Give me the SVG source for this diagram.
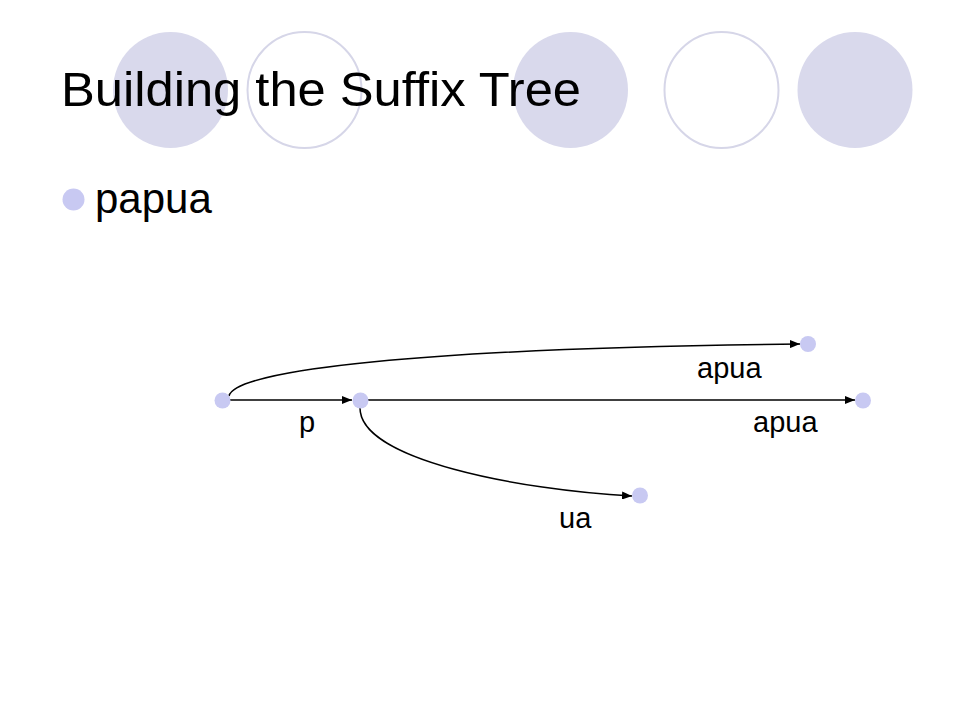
<svg xmlns="http://www.w3.org/2000/svg" width="960" height="720" viewBox="0 0 960 720">
<style>
.deco-fill{fill:#d9d9ec;stroke:none}
.deco-ring{fill:none;stroke:#d6d6e8;stroke-width:2}
.node{fill:#c8c9f2}
.edge{fill:none;stroke:#000;stroke-width:1.5}
.lbl{font-family:"Liberation Sans",Arial,sans-serif;font-size:29px;fill:#000}
</style>
<defs>
<marker id="arr" viewBox="0 0 10 8" refX="10" refY="4" markerWidth="10" markerHeight="8" markerUnits="userSpaceOnUse" orient="auto">
<path d="M0,0 L10,4 L0,8 z" fill="#000"/>
</marker>
</defs>
<rect width="960" height="720" fill="#fff"/>
<g id="decoration">
<ellipse class="deco-fill" cx="170.5" cy="90" rx="57.5" ry="58"/>
<ellipse class="deco-ring" cx="304.5" cy="90" rx="57" ry="58"/>
<ellipse class="deco-fill" cx="570.5" cy="90" rx="57.5" ry="58"/>
<ellipse class="deco-ring" cx="721.5" cy="90" rx="57" ry="58"/>
<ellipse class="deco-fill" cx="855" cy="90" rx="57.5" ry="58"/>
</g>
<g id="title">
<text x="61" y="106" font-family="'Liberation Sans',Arial,sans-serif" font-size="48" textLength="520" lengthAdjust="spacingAndGlyphs">Building the Suffix Tree</text>
</g>
<g id="bullet">
<circle cx="73.5" cy="199.5" r="11" fill="#c8c9f2"/>
<text x="95" y="213" font-family="'Liberation Sans',Arial,sans-serif" font-size="42">papua</text>
</g>
<g id="connectors">
<line class="edge" x1="230" y1="400" x2="352" y2="400" marker-end="url(#arr)"/>
<line class="edge" x1="368" y1="400" x2="855" y2="400" marker-end="url(#arr)"/>
<path class="edge" d="M229,396 C235,370 420,348 800,344" marker-end="url(#arr)"/>
<path class="edge" d="M360,408 C360,460 520,490 632,496" marker-end="url(#arr)"/>
</g>
<g id="node-root"><circle class="node" cx="222.5" cy="400.5" r="8"/></g>
<g id="node-p"><circle class="node" cx="360.5" cy="400.5" r="8"/></g>
<g id="node-papua"><circle class="node" cx="863" cy="400.5" r="8"/></g>
<g id="node-apua"><circle class="node" cx="808" cy="344" r="8"/></g>
<g id="node-ua"><circle class="node" cx="640" cy="495.5" r="8"/></g>
<g id="labels">
<text class="lbl" x="299" y="432">p</text>
<text class="lbl" x="697" y="378">apua</text>
<text class="lbl" x="753" y="432">apua</text>
<text class="lbl" x="559" y="528">ua</text>
</g>
</svg>
